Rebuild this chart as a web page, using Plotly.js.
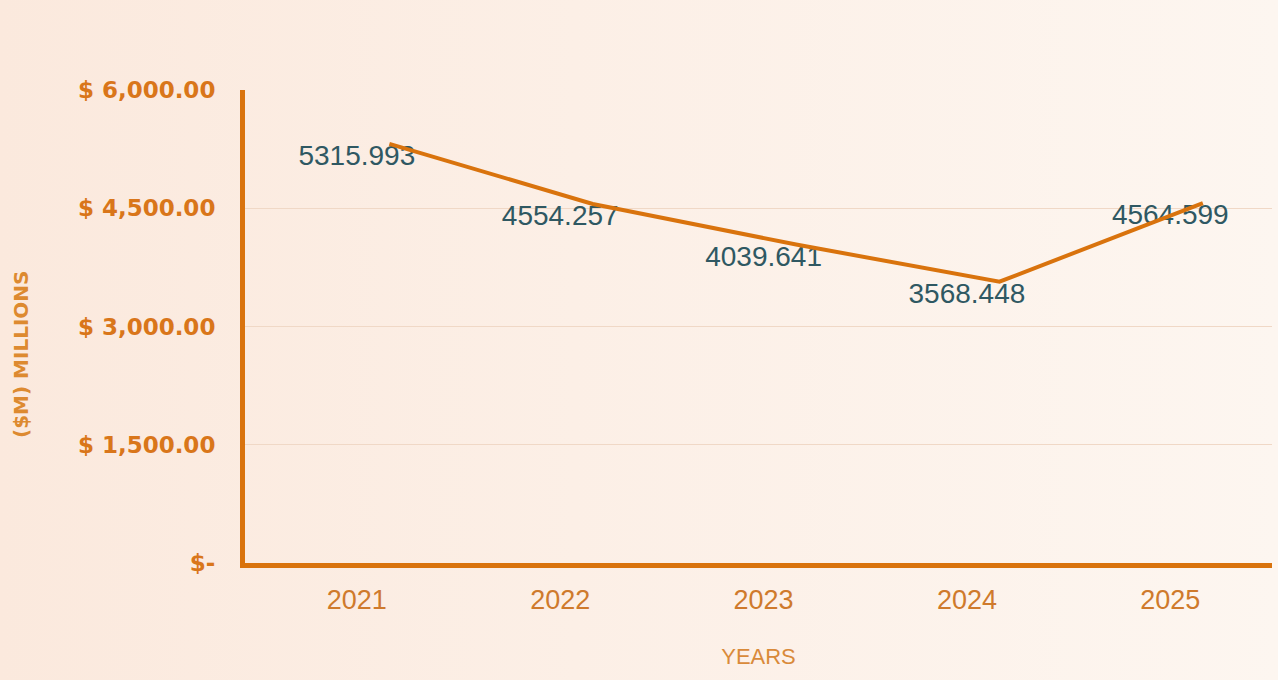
<!DOCTYPE html>
<html>
<head>
<meta charset="utf-8">
<script src="https://cdn.plot.ly/plotly-3.0.1.min.js"></script>
<style>
html,body{margin:0;padding:0;width:1278px;height:680px;overflow:hidden;
background:linear-gradient(90deg,#fbe9dd 0%,#fcefe6 45%,#fdf6f0 100%);}
#chart{width:1278px;height:680px;}
</style>
</head>
<body>
<div id="chart"></div>
<script>
const years = ["2021","2022","2023","2024","2025"];
const revenue = [5315.993, 4554.257, 4039.641, 3568.448, 4564.599];
const labels = ["5315.993","4554.257","4039.641","3568.448","4564.599"];
const yTickVals = [0, 1500, 3000, 4500, 6000];
const yTickText = ["$-", "$ 1,500.00", "$ 3,000.00", "$ 4,500.00", "$ 6,000.00"];

const orange = "#d9730d";

const traces = [
  {
    x: years, y: revenue, type: "scatter", mode: "lines",
    xaxis: "x2", yaxis: "y",
    line: {color: orange, width: 4},
    hoverinfo: "skip", showlegend: false
  },
  {
    x: years, y: revenue, type: "scatter", mode: "text",
    text: labels, textposition: "bottom center",
    textfont: {family: "Liberation Sans, Arial, sans-serif", size: 28, color: "#2f5862"},
    hoverinfo: "skip", showlegend: false
  }
];

const layout = {
  width: 1278, height: 680,
  paper_bgcolor: "rgba(0,0,0,0)",
  plot_bgcolor: "rgba(0,0,0,0)",
  margin: {l: 245, r: 6, t: 90, b: 117},
  showlegend: false,
  xaxis: {
    type: "category", range: [-0.55, 4.5],
    showgrid: false, zeroline: false,
    showline: true, linecolor: orange, linewidth: 5,
    ticks: "", ticklabelstandoff: 9,
    tickfont: {family: "Liberation Sans, Arial, sans-serif", size: 27, color: "#cf7a2c"},
    title: {text: "YEARS", standoff: 36,
      font: {family: "Liberation Sans, Arial, sans-serif", size: 22, color: "#d98a3a"}}
  },
  xaxis2: {
    type: "category", overlaying: "x", range: [-0.71, 4.34],
    visible: false, showgrid: false, zeroline: false
  },
  yaxis: {
    range: [0, 6000],
    tickvals: yTickVals, ticktext: yTickText,
    showgrid: true, gridcolor: "#f0d8c6", gridwidth: 1,
    zeroline: false,
    showline: true, linecolor: orange, linewidth: 5,
    ticks: "", ticklabelstandoff: 20,
    tickfont: {family: "DejaVu Sans, sans-serif", size: 23, color: "#d9761a", weight: "bold"}
  },
  annotations: [{
    text: "($M) MILLIONS", xref: "paper", yref: "paper",
    x: -0.218, y: 0.44, xanchor: "center", yanchor: "middle",
    textangle: -90, showarrow: false,
    font: {family: "DejaVu Sans, sans-serif", size: 20, color: "#dd8a30", weight: "bold"}
  }]
};

Plotly.newPlot("chart", traces, layout, {displayModeBar: false, staticPlot: true});
</script>
</body>
</html>
